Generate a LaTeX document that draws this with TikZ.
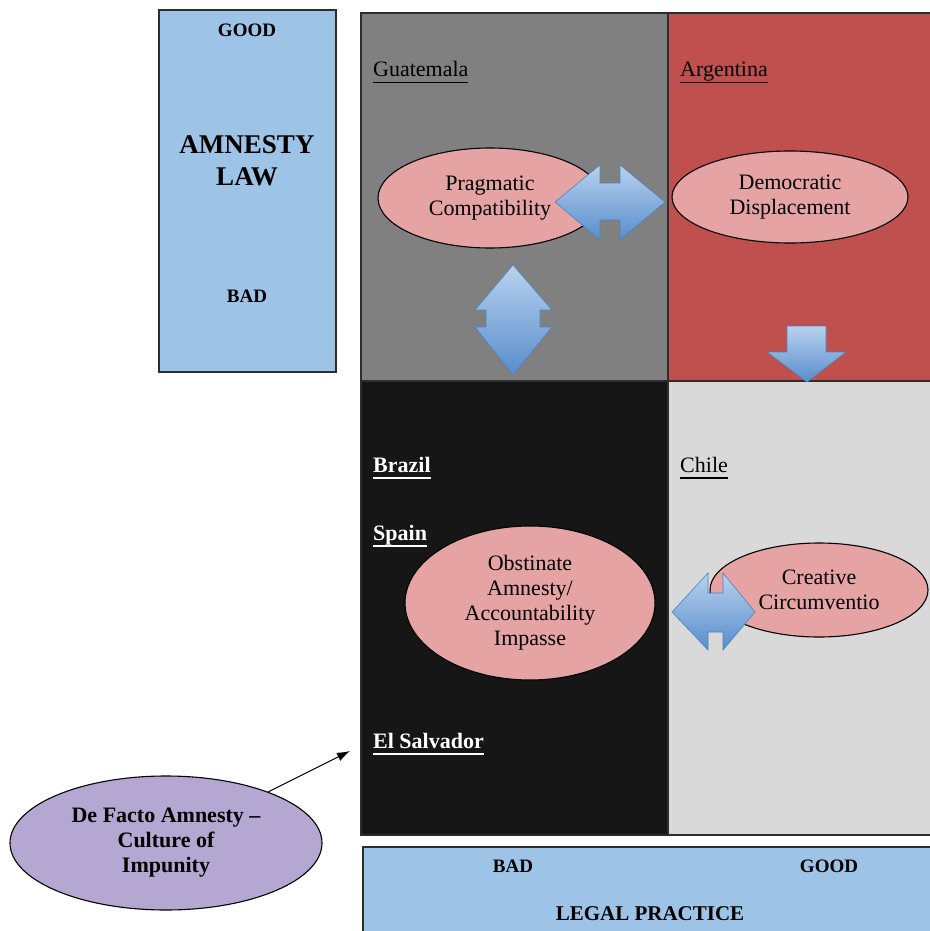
\documentclass[tikz,border=0pt]{standalone}
\usepackage{fontspec}
\setmainfont{Liberation Serif}
\usetikzlibrary{shapes.geometric,arrows.meta}
\definecolor{axisblue}{RGB}{157,195,230}
\definecolor{linegray}{RGB}{45,45,45}
\definecolor{cellgray}{RGB}{128,128,128}
\definecolor{cellred}{RGB}{192,80,77}
\definecolor{cellblack}{RGB}{22,22,22}
\definecolor{celllight}{RGB}{217,217,217}
\definecolor{ovalpink}{RGB}{230,163,163}
\definecolor{ovallilac}{RGB}{180,167,210}
\definecolor{arrowtop}{RGB}{184,210,238}
\definecolor{arrowbottom}{RGB}{88,141,204}
\definecolor{arrowedge}{RGB}{80,130,190}
\newcommand{\ctry}[1]{\setbox0\hbox{#1}\leavevmode\rlap{\rule[-6.5pt]{\wd0}{1.5pt}}\box0}
\begin{document}
\begin{tikzpicture}[x=1pt,y=-1pt,
    every node/.style={font=\fontsize{22}{25}\selectfont},
    edgeline/.style={draw=linegray,line width=1.2pt},
    oval/.style={ellipse,draw=black,line width=1.1pt,fill=ovalpink,inner sep=0pt,align=center},
    axisbox/.style={draw=linegray,line width=1.2pt,fill=axisblue},
    axislabel/.style={font=\bfseries\fontsize{19}{22}\selectfont},
    blockarrow/.style={draw=arrowedge,line width=0.6pt,top color=arrowtop,bottom color=arrowbottom},
    country/.style={anchor=base west,inner sep=0pt}]
  \useasboundingbox (0,0) rectangle (929,931);

  % quadrants
  \fill[cellgray] (361,13) rectangle (668,381);
  \fill[cellred] (668,13) rectangle (935,381);
  \fill[cellblack] (361,381) rectangle (668,835);
  \fill[celllight] (668,381) rectangle (935,835);
  \draw[edgeline] (935,13) -- (361,13) -- (361,835) -- (935,835);
  \draw[edgeline] (668,13) -- (668,835);
  \draw[edgeline] (361,381) -- (935,381);

  % countries
  \node[country] (guatemala) at (373,77) {\ctry{Guatemala}};
  \node[country] (argentina) at (680,77) {\ctry{Argentina}};
  \node[country,text=white,font=\bfseries\fontsize{22}{25}\selectfont] (brazil) at (373,472) {\ctry{Brazil}};
  \node[country] (chile) at (680,472) {\ctry{Chile}};
  \node[country,text=white,font=\bfseries\fontsize{22}{25}\selectfont] (spain) at (373,540) {\ctry{Spain}};
  \node[country,text=white,font=\bfseries\fontsize{22}{25}\selectfont] (salvador) at (373,748) {\ctry{El Salvador}};

  % models
  \node[oval,minimum width=224pt,minimum height=100pt] (pragmatic) at (490,198) {Pragmatic\\Compatibility};
  \node[oval,minimum width=236pt,minimum height=92pt] (democratic) at (790,197) {Democratic\\Displacement};
  \node[oval,minimum width=250pt,minimum height=154pt] (obstinate) at (530,603) {Obstinate\\Amnesty/\\Accountability\\Impasse};
  \node[oval,minimum width=218pt,minimum height=94pt] (creative) at (819,590) {Creative\\Circumventio};

  % block arrows
  \draw[blockarrow] (555,202) -- (600,165) -- (600,183) -- (620,183) -- (620,165) -- (665,202)
    -- (620,240) -- (620,220) -- (600,220) -- (600,240) -- cycle;
  \draw[blockarrow] (513,265) -- (552,310) -- (540,310) -- (540,327) -- (552,327) -- (513,375)
    -- (475,327) -- (486,327) -- (486,310) -- (475,310) -- cycle;
  \draw[blockarrow] (787,326) -- (826,326) -- (826,352) -- (846,352) -- (807,382) -- (767,352)
    -- (787,352) -- cycle;
  \draw[blockarrow] (672,612) -- (708,573) -- (708,593) -- (723,593) -- (723,573) -- (755,612)
    -- (723,650) -- (723,632) -- (708,632) -- (708,650) -- cycle;

  % de facto amnesty
  \node[oval,fill=ovallilac,minimum width=312pt,minimum height=134pt,
    font=\bfseries\fontsize{22}{25}\selectfont] (defacto) at (166,843) {De Facto Amnesty --\\Culture of\\Impunity};
  \coordinate (salvtip) at (350,751);
  \draw[-{Latex[length=13pt,width=9pt]},line width=1pt] (defacto) -- (salvtip);

  % axes
  \draw[axisbox] (159,10) rectangle (336,372);
  \node[axislabel] (lawgood) at (247,30) {GOOD};
  \node[align=center,font=\bfseries\fontsize{27}{32}\selectfont] (lawtitle) at (247,161) {AMNESTY\\LAW};
  \node[axislabel] (lawbad) at (247,296) {BAD};
  \draw[axisbox] (363,847) rectangle (945,945);
  \node[axislabel] (practicebad) at (513,866) {BAD};
  \node[axislabel] (practicegood) at (829,866) {GOOD};
  \node[font=\bfseries\fontsize{21}{25}\selectfont] (practicetitle) at (650,914) {LEGAL PRACTICE};
\end{tikzpicture}
\end{document}
